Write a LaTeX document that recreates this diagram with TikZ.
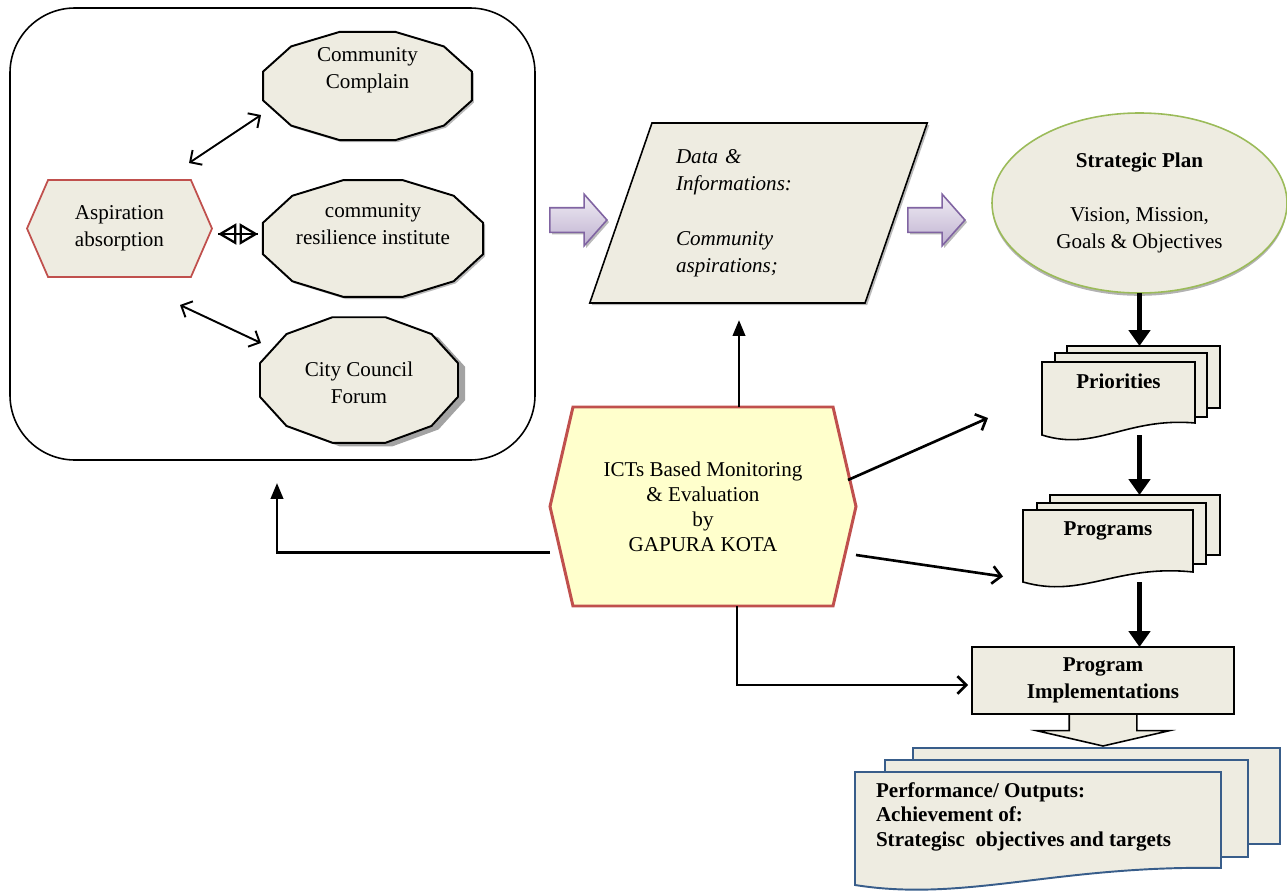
\documentclass[tikz,border=0pt]{standalone}
\usepackage{fontspec}
\setmainfont{Liberation Serif}
\usetikzlibrary{shapes.geometric,shapes.symbols,shapes.arrows,shadows,arrows.meta}

\definecolor{paper}{HTML}{EEECE1}
\definecolor{redline}{HTML}{C0504D}
\definecolor{lemon}{HTML}{FFFFCC}
\definecolor{greenline}{HTML}{9BBB59}
\definecolor{purpline}{HTML}{8064A2}
\definecolor{blueline}{HTML}{385D8A}
\newcommand{\diagfont}{\fontsize{12}{15.5}\selectfont}

\begin{document}
\begin{tikzpicture}[inner sep=0pt,outer sep=0pt,very thick,font=\diagfont,
>={Straight Barb[length=5pt,width=10pt]},
facet/.style={draw,fill=paper,line width=1.1pt},
softshadow/.style={drop shadow={shadow xshift=1.2pt,shadow yshift=-1.2pt,opacity=.45,fill=black!60}},
hexbox/.style={signal,signal to=west and east,draw=redline,align=center},
bigarrow/.style={single arrow,draw=purpline,top color=purpline!12,bottom color=purpline!50,line width=0.9pt,
  inner xsep=0pt,inner ysep=0.23cm,minimum height=1.14cm,single arrow head extend=0.27cm,single arrow tip angle=97,softshadow},
page/.style={rectangle,draw,fill=paper,line width=0.9pt},
docline/.style={draw,fill=paper,line width=0.9pt},
link/.style={line width=1.5pt},
heavy/.style={line width=3.4pt,-{Triangle[width=12pt,length=9pt]}}]

\useasboundingbox (0,0) rectangle (25.74,-17.84);

% aspiration group
\draw (5.45,-4.68) node[draw,rounded corners=1.3cm,minimum width=10.5cm,minimum height=9.04cm,line width=0.9pt] (grp) {};

\draw[facet,softshadow,shift={(7.35,-1.72)}] (15:2.16 and 1.12) foreach \t in {45,75,...,345} {-- (\t:2.16 and 1.12)} -- cycle;
\draw (7.35,-1.41) node[align=center] (comp) {Community\\Complain};
\draw[facet,softshadow,shift={(7.46,-4.77)}] (15:2.28 and 1.21) foreach \t in {45,75,...,345} {-- (\t:2.28 and 1.21)} -- cycle;
\draw (7.46,-4.49) node[align=center] (resi) {community\\resilience institute};
\draw[facet,drop shadow={shadow xshift=4pt,shadow yshift=-2pt,opacity=.8,fill=black!45},shift={(7.18,-7.60)}] (15:2.05 and 1.30) foreach \t in {45,75,...,345} {-- (\t:2.05 and 1.30)} -- cycle;
\draw (7.18,-7.66) node[align=center] (city) {City Council\\Forum};

\draw (2.39,-4.57) node[hexbox,fill=paper,line width=1pt,minimum width=3.7cm,minimum height=1.94cm,signal pointer angle=133] (asp) {Aspiration\\absorption};

\draw[<->,line width=1.1pt] ([shift={(1.39,1.31)}]asp.center) -- ([shift={(-2.13,-0.89)}]comp.center);
\draw[line width=1.3pt] ([shift={(1.97,-0.11)}]asp.center) -- ([shift={(-2.30,-0.19)}]resi.center);
\draw[line width=1.3pt,{Triangle[open,length=10.5pt,width=12pt]}-{Triangle[open,length=10.5pt,width=12pt]}] ([shift={(1.97,-0.11)}]asp.center) -- ([shift={(-2.30,-0.19)}]resi.center);
\draw[<->,line width=1.1pt] ([shift={(1.21,-1.53)}]asp.center) -- ([shift={(-1.96,0.80)}]city.center);

% data and plan
\draw (11.46,-4.40) node[bigarrow] (ar1) {};
\draw (15.17,-4.26) node[trapezium,trapezium left angle=69.3,trapezium right angle=110.7,trapezium stretches=true,
  draw,fill=paper,line width=0.9pt,minimum width=6.76cm,minimum height=3.6cm,text width=3.3cm,align=left,
  font=\diagfont\itshape,softshadow] (data) {Data \&\\Informations:\\[\baselineskip]Community\\aspirations;};
\draw (18.62,-4.40) node[bigarrow] (ar2) {};
\draw (22.79,-4.06) node[ellipse,draw=greenline,fill=paper,line width=0.9pt,minimum width=5.9cm,minimum height=3.6cm,align=center,
  drop shadow={shadow xshift=0pt,shadow yshift=-1.6pt,opacity=.5,fill=black!60}] (plan) {\textbf{Strategic Plan}\\[\baselineskip]Vision, Mission,\\Goals \& Objectives};

% priorities and programs
\draw (22.87,-7.54) node[page,minimum width=3.06cm,minimum height=1.24cm] (prio3) {};
\draw (22.62,-7.70) node[page,minimum width=3.04cm,minimum height=1.28cm] (prio2) {};
\path (22.37,-7.97) node[minimum width=3.06cm,minimum height=1.46cm] (prio) {};
\draw[docline] (prio.north west) -- (prio.north east) -- ([yshift=0.24cm]prio.south east)
  .. controls ([xshift=-1.38cm,yshift=0.36cm]prio.south east) and ([xshift=1.07cm,yshift=-0.34cm]prio.south west) .. (prio.south west) -- cycle;
\draw ([yshift=-0.38cm]prio.north) node[font=\diagfont\bfseries] (prioT) {Priorities};

\draw (22.70,-10.50) node[page,minimum width=3.4cm,minimum height=1.2cm] (prog3) {};
\draw (22.43,-10.67) node[page,minimum width=3.38cm,minimum height=1.22cm] (prog2) {};
\path (22.16,-10.92) node[minimum width=3.4cm,minimum height=1.44cm] (prog) {};
\draw[docline] (prog.north west) -- (prog.north east) -- ([yshift=0.2cm]prog.south east)
  .. controls ([xshift=-1.53cm,yshift=0.36cm]prog.south east) and ([xshift=1.19cm,yshift=-0.34cm]prog.south west) .. (prog.south west) -- cycle;
\draw ([yshift=-0.42cm]prog.north) node[font=\diagfont\bfseries] (progT) {Programs};

\draw (22.06,-13.61) node[draw,fill=paper,line width=0.9pt,minimum width=5.24cm,minimum height=1.34cm,align=center,font=\diagfont\bfseries] (impl) {Program\\Implementations};
\draw (impl.south) node[single arrow,draw,fill=paper,line width=0.9pt,rotate=-90,anchor=tail,inner xsep=0pt,inner ysep=0.66cm,
  minimum height=0.64cm,single arrow head extend=0.65cm,single arrow tip angle=154] (out) {};

% performance
\draw (21.93,-15.92) node[page,draw=blueline,line width=1.1pt,minimum width=7.34cm,minimum height=1.92cm] (perf3) {};
\draw (21.33,-16.17) node[page,draw=blueline,line width=1.1pt,minimum width=7.26cm,minimum height=1.94cm] (perf2) {};
\path (20.76,-16.57) node[minimum width=7.32cm,minimum height=2.26cm] (perf) {};
\draw[docline,draw=blueline,line width=1.1pt] (perf.north west) -- (perf.north east) -- ([yshift=0.34cm]perf.south east)
  .. controls ([xshift=-3.29cm,yshift=0.4cm]perf.south east) and ([xshift=2.2cm,yshift=-0.35cm]perf.south west) .. (perf.south west) -- cycle;
\draw (17.52,-16.33) node[anchor=west,align=left,font=\fontsize{12}{14}\selectfont\bfseries] (perfT) {Performance/ Outputs:\\Achievement of:\\Strategisc\ \ objectives and targets};

% monitoring
\draw (14.06,-10.13) node[hexbox,fill=lemon,line width=1.7pt,minimum width=6.12cm,minimum height=3.98cm,signal pointer angle=154,
  font=\fontsize{12}{14.3}\selectfont] (ict) {ICTs Based Monitoring\\\& Evaluation\\by\\GAPURA KOTA};

\draw[heavy] (plan.south) -- (plan.south |- prio3.north);
\draw[heavy] (plan.south |- prio.south) -- (plan.south |- prog3.north);
\draw[heavy] (plan.south |- prog.south) -- (plan.south |- impl.north);

\coordinate (up) at ([xshift=0.72cm]ict.north);
\draw[link,-{Triangle[width=7pt,length=9pt]},shorten >=0.34cm] (up) -- (up |- data.south);
\draw[link,-{Triangle[width=7pt,length=9pt]},shorten >=0.46cm] ([yshift=-0.92cm]ict.west) -| ([xshift=0.09cm]grp.south);
\draw[link,->] ([shift={(-0.16,0.53)}]ict.east) -- ([shift={(-1.08,-0.39)}]prio.west);
\draw[link,->] ([yshift=-0.97cm]ict.east) -- ([shift={(-0.40,-0.61)}]prog.west);
\draw[link,->,shorten >=0.08cm] ([xshift=0.68cm]ict.south) |- ([yshift=-0.09cm]impl.west);
\end{tikzpicture}
\end{document}
